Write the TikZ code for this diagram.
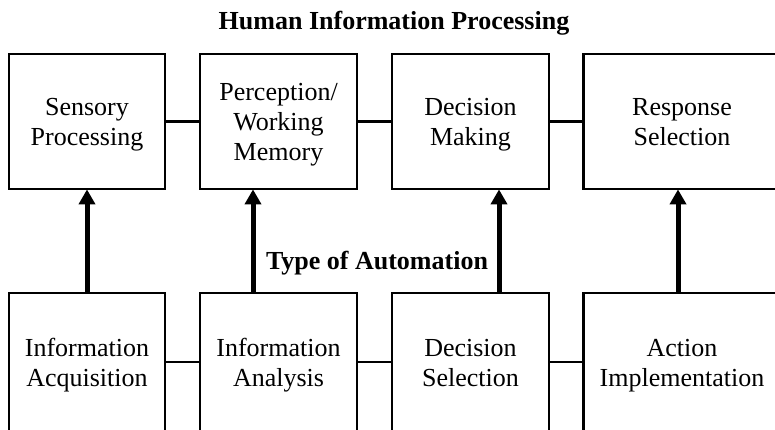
\documentclass[tikz,border=0pt]{standalone}
\usepackage{fontspec}
\setmainfont{Liberation Serif}
\usetikzlibrary{arrows.meta}
\newcommand\ls{\vrule height 24pt depth 6pt width 0pt}
\begin{document}
\begin{tikzpicture}[x=1pt,y=-1pt,
  box/.style={draw=black,line width=2.8pt,align=center,inner sep=0pt,
    font=\fontsize{26}{30}\selectfont,minimum height=135pt},
  low/.style={minimum height=138pt},
  link/.style={line width=2.6pt},
  up/.style={line width=5pt,-{Triangle[width=16pt,length=15pt]},shorten >=-1pt},
  head/.style={font=\fontsize{26}{30}\selectfont\bfseries,inner sep=0pt,anchor=base}]
\useasboundingbox (0,0) rectangle (775,429);
\clip (0,0) rectangle (775,429);
% top row
\node[box,minimum width=156pt] (t1) at (87,121.5) {\ls Sensory\\\ls Processing};
\node[box,minimum width=157pt] (t2) at (278.5,121.5) {\ls Perception/\\\ls Working\\\ls Memory};
\node[box,minimum width=157pt] (t3) at (470.5,121.5) {\ls Decision\\\ls Making};
\node[box,minimum width=197pt] (t4) at (682,121.5) {\ls Response\\\ls Selection};
% bottom row
\node[box,low,minimum width=156pt] (b1) at (87,362) {\ls Information\\\ls Acquisition};
\node[box,low,minimum width=157pt] (b2) at (278.5,362) {\ls Information\\\ls Analysis};
\node[box,low,minimum width=157pt] (b3) at (470.5,362) {\ls Decision\\\ls Selection};
\node[box,low,minimum width=197pt] (b4) at (682,362) {\ls Action\\\ls Implementation};
% links
\draw[link] (t1.east) -- (t2.west);
\draw[link] (t2.east) -- (t3.west);
\draw[link] (t3.east) -- (t4.west);
\draw[link] (b1.east) -- (b2.west);
\draw[link] (b2.east) -- (b3.west);
\draw[link] (b3.east) -- (b4.west);
% arrows
\draw[up] (b1.north) -- (t1.south);
\draw[up] ([xshift=-25.5pt]b2.north) -- ([xshift=-25.5pt]t2.south);
\draw[up] ([xshift=28.5pt]b3.north) -- ([xshift=28.5pt]t3.south);
\draw[up] ([xshift=-4pt]b4.north) -- ([xshift=-4pt]t4.south);
% headings
\node[head] (title) at (394,29) {Human Information Processing};
\node[head] (toa) at (377,269) {Type of Automation};
\end{tikzpicture}
\end{document}
